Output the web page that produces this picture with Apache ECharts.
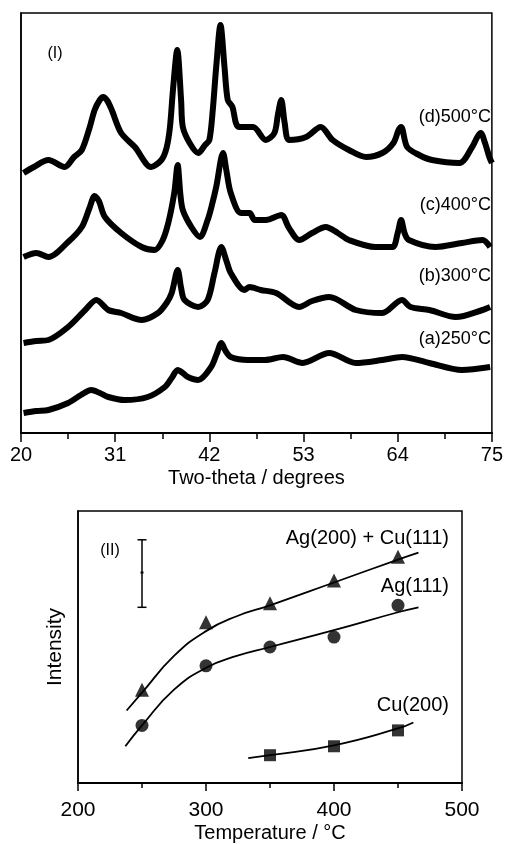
<!DOCTYPE html>
<html>
<head>
<meta charset="utf-8">
<script src="https://cdn.jsdelivr.net/npm/echarts@6/dist/echarts.min.js"></script>
<style>html,body{margin:0;padding:0;background:#fff;}#c{width:506px;height:844px;}</style>
</head>
<body>
<div id="c"></div>
<script>
// ---- Panel (I): XRD patterns, [2theta, offset intensity (a.u.)] ----
const xrdTicks = [20, 31, 42, 53, 64, 75];
const xrdMinorTicks = [25.5, 36.5, 47.5, 58.5, 69.5];
const xrdD = [[20.3,260],[21.5,266],[23.2,273],[25.1,266],[26.2,276],[27.1,283],[28.0,305],[28.6,323],[29.2,333],[29.6,336],[30.1,332],[30.6,323],[31.7,300],[33.3,286],[35.2,266],[36.4,273],[37.0,285],[37.4,306],[37.75,343],[38.25,383],[38.7,333],[38.9,306],[39.7,290],[40.7,280],[41.5,288],[42.0,293],[42.4,323],[42.8,366],[43.3,408],[43.77,366],[44.15,333],[44.7,326],[45.1,310],[45.5,306],[47.1,306],[48.6,293],[49.6,300],[50.0,318],[50.4,333],[50.8,310],[51.3,293],[53.3,296],[55.0,306],[56.4,293],[58.3,283],[60.3,276],[62.2,280],[63.5,290],[64.1,303],[64.4,306],[65.1,286],[66.5,278],[68.0,273],[71.2,270],[72.7,286],[73.3,296],[73.7,300],[74.2,290],[74.7,276],[75,270]];
const xrdC = [[20.3,176],[21.8,180],[23.2,176],[25.5,191],[27.1,206],[28.0,225],[28.6,237],[29.1,232],[29.8,216],[31.7,200],[34.1,186],[35.6,183],[36.5,192],[37.2,210],[37.9,240],[38.3,268],[38.6,240],[38.9,223],[39.9,206],[40.9,196],[41.8,213],[42.3,228],[42.8,246],[43.6,280],[44.0,262],[44.5,240],[45.7,220],[46.7,220],[47.3,213],[48.6,213],[50.4,218],[51.3,205],[52.5,193],[54.0,200],[55.6,206],[57.0,200],[58.3,193],[61.4,186],[63.4,186],[64.0,200],[64.4,213],[64.8,200],[65.3,193],[68.4,186],[71.5,190],[73.9,193],[74.8,186]];
const xrdB = [[20.3,90],[21.8,92],[23.2,93],[25.5,106],[27.5,123],[28.8,133],[30.2,123],[31.7,120],[34.1,113],[36.0,120],[37.0,130],[37.6,140],[38.3,163],[38.7,145],[39.1,133],[40.7,126],[41.8,133],[42.6,160],[43.4,186],[44.0,172],[44.5,160],[46.1,143],[46.7,146],[48.0,143],[49.8,140],[52.5,126],[54.0,132],[56.0,136],[59.1,123],[62.2,120],[64.5,133],[65.5,126],[67.7,123],[70.8,116],[73.9,123],[74.8,126]];
const xrdA = [[20.3,20],[21.8,22],[23.2,23],[25.5,30],[27.0,38],[28.2,43],[29.2,40],[30.2,36],[32.1,33],[34.8,36],[36.8,46],[37.6,55],[38.3,63],[38.9,60],[39.5,56],[40.7,53],[42.2,66],[42.9,80],[43.4,90],[43.9,82],[44.5,76],[46.5,73],[48.5,73],[50.6,76],[52.9,70],[56.0,80],[59.1,70],[62.2,73],[64.5,76],[67.7,70],[71.5,63],[74.8,66]];
const xrdLabels = ["(d)500°C", "(c)400°C", "(b)300°C", "(a)250°C"];

// ---- Panel (II): peak intensity vs temperature ----
const tempTicks = [200, 300, 400, 500];
const agCuTemps = [250, 300, 350, 400, 450];
const agCuVals = [94, 162, 181, 204, 228];
const ag111Temps = [250, 300, 350, 400, 450];
const ag111Vals = [58, 118, 137, 147, 179];
const cu200Temps = [350, 400, 450];
const cu200Vals = [28, 37, 53];
const agCuFit = [[238,73],[250,91],[275,128],[300,153],[324,168],[350,179],[400,202],[450,225],[466,232]];
const ag111Fit = [[237,37],[250,58],[275,94],[300,116],[324,128],[350,137],[400,154],[450,172],[466,177]];
const cu200Fit = [[333,25],[350,28],[400,38],[450,55],[462,61]];
const errorBar = [[250, 177, 212, 245]]; // [T, low, mid, high]

const FONT = '"Liberation Sans", Arial, Helvetica, sans-serif';
const zip = (xs, ys) => xs.map((x, i) => [x, ys[i]]);

const chart = echarts.init(document.getElementById('c'), null, {renderer: 'canvas'});

const axisLine = {show: true, lineStyle: {color: '#000', width: 2}};
const option = {
  backgroundColor: '#fff',
  animation: false,
  textStyle: {fontFamily: FONT, color: '#000'},
  grid: [
    {left: 21, right: 13, top: 13, bottom: 411, show: true, borderColor: '#000', borderWidth: 1.5, backgroundColor: 'transparent'},
    {left: 78, right: 44, top: 511, bottom: 59, show: true, borderColor: '#000', borderWidth: 1.5, backgroundColor: 'transparent'}
  ],
  xAxis: [
    {gridIndex: 0, type: 'value', position: 'bottom', min: 20, max: 75, axisLine: axisLine,
     axisTick: {show: true, length: 9, customValues: xrdTicks, lineStyle: {color: '#000', width: 1.5}},
     axisLabel: {customValues: xrdTicks, color: '#000', fontSize: 20, fontFamily: FONT, margin: 12},
     splitLine: {show: false},
     name: 'Two-theta / degrees', nameLocation: 'middle', nameGap: 35,
     nameTextStyle: {fontSize: 20, fontFamily: FONT, color: '#000'}},
    {gridIndex: 0, type: 'value', position: 'bottom', min: 20, max: 75, axisLine: axisLine,
     axisTick: {show: true, length: 6, customValues: xrdMinorTicks, lineStyle: {color: '#000', width: 1.5}},
     axisLabel: {show: false}, splitLine: {show: false}},
    {gridIndex: 1, type: 'value', position: 'bottom', min: 200, max: 500, interval: 100, axisLine: axisLine,
     axisTick: {show: true, length: 8, lineStyle: {color: '#000', width: 1.5}},
     minorTick: {show: true, splitNumber: 2, length: 5, lineStyle: {color: '#000', width: 1.5}},
     axisLabel: {color: '#000', fontSize: 21, fontFamily: FONT, margin: 17},
     splitLine: {show: false},
     name: 'Temperature / °C', nameLocation: 'middle', nameGap: 40,
     nameTextStyle: {fontSize: 20, fontFamily: FONT, color: '#000'}}
  ],
  yAxis: [
    {gridIndex: 0, type: 'value', min: 0, max: 420, axisLine: {show: true, lineStyle: {color: '#000', width: 1.5}},
     axisTick: {show: false}, axisLabel: {show: false}, splitLine: {show: false}},
    {gridIndex: 1, type: 'value', min: 0, max: 274, axisLine: {show: true, lineStyle: {color: '#000', width: 1.5}},
     axisTick: {show: false}, axisLabel: {show: false}, splitLine: {show: false},
     name: 'Intensity', nameLocation: 'middle', nameGap: 12,
     nameTextStyle: {fontSize: 21, fontFamily: FONT, color: '#000'}}
  ],
  series: [
    ...[xrdD, xrdC, xrdB, xrdA].map(d => ({
      type: 'line', xAxisIndex: 0, yAxisIndex: 0, data: d, showSymbol: false, smooth: 0.3,
      lineStyle: {color: '#000', width: 6, join: 'round'}, silent: true
    })),
    {type: 'line', xAxisIndex: 2, yAxisIndex: 1, data: agCuFit, smooth: 0.5, showSymbol: false, lineStyle: {color: '#000', width: 1.8}},
    {type: 'line', xAxisIndex: 2, yAxisIndex: 1, data: ag111Fit, smooth: 0.5, showSymbol: false, lineStyle: {color: '#000', width: 1.8}},
    {type: 'line', xAxisIndex: 2, yAxisIndex: 1, data: cu200Fit, smooth: 0.5, showSymbol: false, lineStyle: {color: '#000', width: 1.8}},
    {type: 'scatter', xAxisIndex: 2, yAxisIndex: 1, data: zip(agCuTemps, agCuVals), symbol: 'triangle', symbolSize: 14, itemStyle: {color: '#000'}},
    {type: 'scatter', xAxisIndex: 2, yAxisIndex: 1, data: zip(ag111Temps, ag111Vals), symbol: 'circle', symbolSize: 13, itemStyle: {color: '#000'}},
    {type: 'scatter', xAxisIndex: 2, yAxisIndex: 1, data: zip(cu200Temps, cu200Vals), symbol: 'rect', symbolSize: 12, itemStyle: {color: '#000'}},
    {type: 'custom', xAxisIndex: 2, yAxisIndex: 1, data: errorBar,
     renderItem: function (params, api) {
       const lo = api.coord([api.value(0), api.value(1)]);
       const mid = api.coord([api.value(0), api.value(2)]);
       const hi = api.coord([api.value(0), api.value(3)]);
       const w = 4.5, s = {stroke: '#000', lineWidth: 1.5};
       return {type: 'group', children: [
         {type: 'line', shape: {x1: hi[0], y1: hi[1], x2: lo[0], y2: lo[1]}, style: s},
         {type: 'line', shape: {x1: hi[0] - w, y1: hi[1], x2: hi[0] + w, y2: hi[1]}, style: s},
         {type: 'line', shape: {x1: lo[0] - w, y1: lo[1], x2: lo[0] + w, y2: lo[1]}, style: s},
         {type: 'line', shape: {x1: mid[0] - 1.5, y1: mid[1], x2: mid[0] + 1.5, y2: mid[1]}, style: {stroke: '#000', lineWidth: 2}}
       ]};
     }}
  ],
  graphic: [
    {type: 'text', x: 55, y: 54, style: {text: '(I)', font: '16px ' + FONT, fill: '#000', align: 'center', verticalAlign: 'middle'}},
    {type: 'text', x: 491, y: 117, style: {text: xrdLabels[0], font: '18px ' + FONT, fill: '#000', align: 'right', verticalAlign: 'middle'}},
    {type: 'text', x: 491, y: 205, style: {text: xrdLabels[1], font: '18px ' + FONT, fill: '#000', align: 'right', verticalAlign: 'middle'}},
    {type: 'text', x: 491, y: 276, style: {text: xrdLabels[2], font: '18px ' + FONT, fill: '#000', align: 'right', verticalAlign: 'middle'}},
    {type: 'text', x: 491, y: 339, style: {text: xrdLabels[3], font: '18px ' + FONT, fill: '#000', align: 'right', verticalAlign: 'middle'}},
    {type: 'text', x: 110, y: 551, style: {text: '(II)', font: '16px ' + FONT, fill: '#000', align: 'center', verticalAlign: 'middle'}},
    {type: 'text', x: 449, y: 538, style: {text: 'Ag(200) + Cu(111)', font: '20px ' + FONT, fill: '#000', align: 'right', verticalAlign: 'middle'}},
    {type: 'text', x: 449, y: 586, style: {text: 'Ag(111)', font: '20px ' + FONT, fill: '#000', align: 'right', verticalAlign: 'middle'}},
    {type: 'text', x: 449, y: 705, style: {text: 'Cu(200)', font: '20px ' + FONT, fill: '#000', align: 'right', verticalAlign: 'middle'}}
  ]
};
chart.setOption(option);
</script>
</body>
</html>
